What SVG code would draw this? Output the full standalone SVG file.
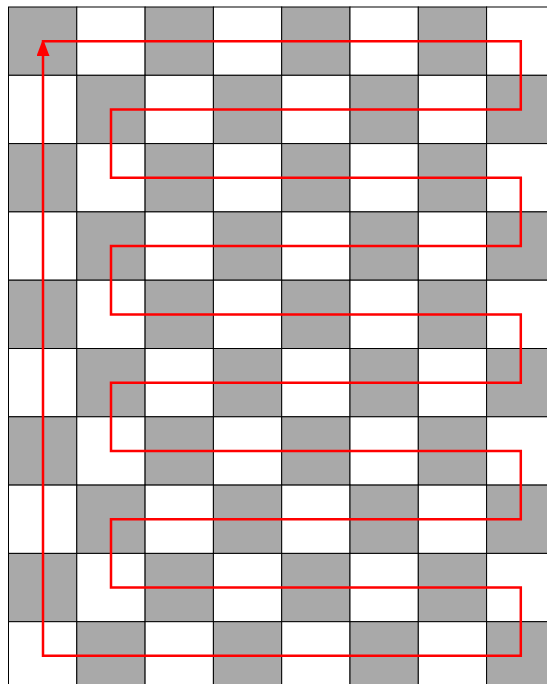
<svg xmlns="http://www.w3.org/2000/svg" width="547" height="684" viewBox="0 0 547 684">
<style>
.g{fill:#a9a9a9;stroke:#000;stroke-width:1}
.w{fill:#fff;stroke:#000;stroke-width:1}
.path{fill:none;stroke:#ff0000;stroke-width:2.5;stroke-linejoin:miter}
</style>
<defs>
<marker id="arr" markerUnits="userSpaceOnUse" markerWidth="14" markerHeight="18" refX="16" refY="6.5" orient="auto">
<path d="M0,0 L17,6.5 L0,13 Z" fill="#ff0000"/>
</marker>
</defs>
<rect width="547" height="684" fill="#fff"/>
<g id="board">
<g id="row0">
<rect class="g" x="8.5" y="7" width="68.3" height="68.3"/><rect class="w" x="76.8" y="7" width="68.3" height="68.3"/><rect class="g" x="145.1" y="7" width="68.3" height="68.3"/><rect class="w" x="213.4" y="7" width="68.3" height="68.3"/><rect class="g" x="281.7" y="7" width="68.3" height="68.3"/><rect class="w" x="350" y="7" width="68.3" height="68.3"/><rect class="g" x="418.3" y="7" width="68.3" height="68.3"/><rect class="w" x="486.6" y="7" width="68.3" height="68.3"/>
</g>
<g id="row1">
<rect class="w" x="8.5" y="75.3" width="68.3" height="68.3"/><rect class="g" x="76.8" y="75.3" width="68.3" height="68.3"/><rect class="w" x="145.1" y="75.3" width="68.3" height="68.3"/><rect class="g" x="213.4" y="75.3" width="68.3" height="68.3"/><rect class="w" x="281.7" y="75.3" width="68.3" height="68.3"/><rect class="g" x="350" y="75.3" width="68.3" height="68.3"/><rect class="w" x="418.3" y="75.3" width="68.3" height="68.3"/><rect class="g" x="486.6" y="75.3" width="68.3" height="68.3"/>
</g>
<g id="row2">
<rect class="g" x="8.5" y="143.6" width="68.3" height="68.3"/><rect class="w" x="76.8" y="143.6" width="68.3" height="68.3"/><rect class="g" x="145.1" y="143.6" width="68.3" height="68.3"/><rect class="w" x="213.4" y="143.6" width="68.3" height="68.3"/><rect class="g" x="281.7" y="143.6" width="68.3" height="68.3"/><rect class="w" x="350" y="143.6" width="68.3" height="68.3"/><rect class="g" x="418.3" y="143.6" width="68.3" height="68.3"/><rect class="w" x="486.6" y="143.6" width="68.3" height="68.3"/>
</g>
<g id="row3">
<rect class="w" x="8.5" y="211.9" width="68.3" height="68.3"/><rect class="g" x="76.8" y="211.9" width="68.3" height="68.3"/><rect class="w" x="145.1" y="211.9" width="68.3" height="68.3"/><rect class="g" x="213.4" y="211.9" width="68.3" height="68.3"/><rect class="w" x="281.7" y="211.9" width="68.3" height="68.3"/><rect class="g" x="350" y="211.9" width="68.3" height="68.3"/><rect class="w" x="418.3" y="211.9" width="68.3" height="68.3"/><rect class="g" x="486.6" y="211.9" width="68.3" height="68.3"/>
</g>
<g id="row4">
<rect class="g" x="8.5" y="280.2" width="68.3" height="68.3"/><rect class="w" x="76.8" y="280.2" width="68.3" height="68.3"/><rect class="g" x="145.1" y="280.2" width="68.3" height="68.3"/><rect class="w" x="213.4" y="280.2" width="68.3" height="68.3"/><rect class="g" x="281.7" y="280.2" width="68.3" height="68.3"/><rect class="w" x="350" y="280.2" width="68.3" height="68.3"/><rect class="g" x="418.3" y="280.2" width="68.3" height="68.3"/><rect class="w" x="486.6" y="280.2" width="68.3" height="68.3"/>
</g>
<g id="row5">
<rect class="w" x="8.5" y="348.5" width="68.3" height="68.3"/><rect class="g" x="76.8" y="348.5" width="68.3" height="68.3"/><rect class="w" x="145.1" y="348.5" width="68.3" height="68.3"/><rect class="g" x="213.4" y="348.5" width="68.3" height="68.3"/><rect class="w" x="281.7" y="348.5" width="68.3" height="68.3"/><rect class="g" x="350" y="348.5" width="68.3" height="68.3"/><rect class="w" x="418.3" y="348.5" width="68.3" height="68.3"/><rect class="g" x="486.6" y="348.5" width="68.3" height="68.3"/>
</g>
<g id="row6">
<rect class="g" x="8.5" y="416.8" width="68.3" height="68.3"/><rect class="w" x="76.8" y="416.8" width="68.3" height="68.3"/><rect class="g" x="145.1" y="416.8" width="68.3" height="68.3"/><rect class="w" x="213.4" y="416.8" width="68.3" height="68.3"/><rect class="g" x="281.7" y="416.8" width="68.3" height="68.3"/><rect class="w" x="350" y="416.8" width="68.3" height="68.3"/><rect class="g" x="418.3" y="416.8" width="68.3" height="68.3"/><rect class="w" x="486.6" y="416.8" width="68.3" height="68.3"/>
</g>
<g id="row7">
<rect class="w" x="8.5" y="485.1" width="68.3" height="68.3"/><rect class="g" x="76.8" y="485.1" width="68.3" height="68.3"/><rect class="w" x="145.1" y="485.1" width="68.3" height="68.3"/><rect class="g" x="213.4" y="485.1" width="68.3" height="68.3"/><rect class="w" x="281.7" y="485.1" width="68.3" height="68.3"/><rect class="g" x="350" y="485.1" width="68.3" height="68.3"/><rect class="w" x="418.3" y="485.1" width="68.3" height="68.3"/><rect class="g" x="486.6" y="485.1" width="68.3" height="68.3"/>
</g>
<g id="row8">
<rect class="g" x="8.5" y="553.4" width="68.3" height="68.3"/><rect class="w" x="76.8" y="553.4" width="68.3" height="68.3"/><rect class="g" x="145.1" y="553.4" width="68.3" height="68.3"/><rect class="w" x="213.4" y="553.4" width="68.3" height="68.3"/><rect class="g" x="281.7" y="553.4" width="68.3" height="68.3"/><rect class="w" x="350" y="553.4" width="68.3" height="68.3"/><rect class="g" x="418.3" y="553.4" width="68.3" height="68.3"/><rect class="w" x="486.6" y="553.4" width="68.3" height="68.3"/>
</g>
<g id="row9">
<rect class="w" x="8.5" y="621.7" width="68.3" height="68.3"/><rect class="g" x="76.8" y="621.7" width="68.3" height="68.3"/><rect class="w" x="145.1" y="621.7" width="68.3" height="68.3"/><rect class="g" x="213.4" y="621.7" width="68.3" height="68.3"/><rect class="w" x="281.7" y="621.7" width="68.3" height="68.3"/><rect class="g" x="350" y="621.7" width="68.3" height="68.3"/><rect class="w" x="418.3" y="621.7" width="68.3" height="68.3"/><rect class="g" x="486.6" y="621.7" width="68.3" height="68.3"/>
</g>
</g>
<g id="connectors">
<path class="path" marker-end="url(#arr)" d="M43,41.2 H520.8 V109.5 H111 V177.8 H520.8 V246 H111 V314.4 H520.8 V382.7 H111 V451 H520.8 V519.3 H111 V587.6 H520.8 V655.8 H43 V40"/>
</g>
</svg>
